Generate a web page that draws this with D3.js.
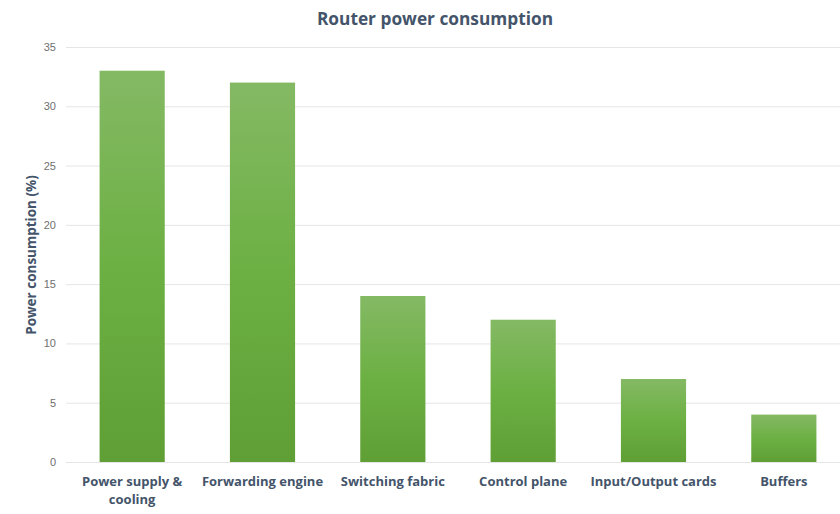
<!DOCTYPE html>
<html><head><meta charset="utf-8">
<script src="https://cdn.jsdelivr.net/npm/d3@7"></script>
<style>body{margin:0;background:#fff;}svg{display:block;font-family:"Open Sans",sans-serif;}</style>
</head><body>
<svg id="chart" width="840" height="514"></svg>
<script>
const categories = ["Power supply & cooling","Forwarding engine","Switching fabric","Control plane","Input/Output cards","Buffers"];
const labelLines = [["Power supply &","cooling"],["Forwarding engine"],["Switching fabric"],["Control plane"],["Input/Output cards"],["Buffers"]];
const values = [33,32,14,12,7,4];
const yTicks = [0,5,10,15,20,25,30,35];

const svg = d3.select("#chart");
const x = d3.scaleBand().domain(categories).range([67,849]).paddingInner(0.5).paddingOuter(0.25);
const y = d3.scaleLinear().domain([0,35]).range([462,47]);

const defs = svg.append("defs");
const g = defs.append("linearGradient").attr("id","bg").attr("x1",0).attr("y1",0).attr("x2",0).attr("y2",1);
g.append("stop").attr("offset","0%").attr("stop-color","#84b964");
g.append("stop").attr("offset","50%").attr("stop-color","#6cb043");
g.append("stop").attr("offset","100%").attr("stop-color","#5f9f35");

// gridlines
const yAxis = d3.axisLeft(y).tickValues(yTicks).tickSize(-(840-66)).tickPadding(10);
const ga = svg.append("g").attr("transform","translate(66,0)").call(yAxis);
ga.select(".domain").remove();
ga.selectAll(".tick line").attr("stroke","#e6e6e6").attr("stroke-width",1);
ga.selectAll(".tick text").attr("fill","#6f6f6f").style("font-size","11px").attr("x",-10);

svg.append("g").selectAll("rect").data(values).join("rect")
  .attr("x",(d,i)=>x(categories[i]))
  .attr("width",x.bandwidth())
  .attr("y",d=>y(d))
  .attr("height",d=>y(0)-y(d))
  .attr("fill","url(#bg)");

// x labels
const xl = svg.append("g");
categories.forEach((c,i)=>{
  const t = xl.append("text").attr("x",x(c)+x.bandwidth()/2).attr("y",486)
    .attr("text-anchor","middle").attr("fill","#44546a")
    .style("font-size","13px").style("font-weight","bold");
  labelLines[i].forEach((ln,j)=>t.append("tspan").attr("x",x(c)+x.bandwidth()/2).attr("dy",j?18:0).text(ln));
});

svg.append("text").attr("transform","translate(36,255) rotate(-90)").attr("text-anchor","middle")
  .attr("fill","#44546a").style("font-size","13.5px").style("font-weight","bold").text("Power consumption (%)");

svg.append("text").attr("x",435).attr("y",25).attr("text-anchor","middle")
  .attr("fill","#44546a").style("font-size","17.3px").style("font-weight","bold").text("Router power consumption");
</script>
</body></html>
